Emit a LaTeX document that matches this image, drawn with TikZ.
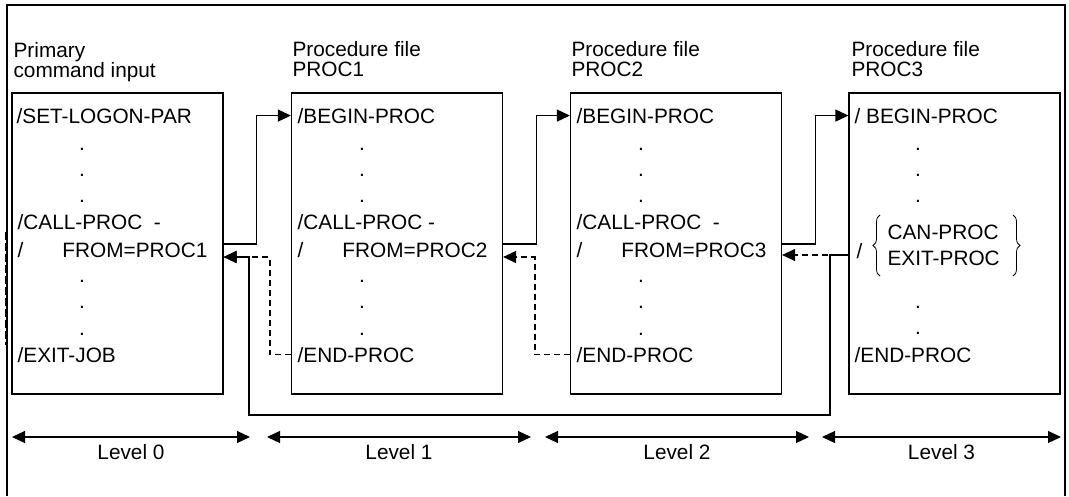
\documentclass[tikz,border=0pt]{standalone}
\usepackage{fontspec}
\setmainfont{Liberation Sans}
\usetikzlibrary{arrows.meta,decorations.pathreplacing}
\tikzset{
	procbox/.style={draw, minimum width=211pt, minimum height=301pt, inner sep=0pt},
	cmd/.style={anchor=base west, inner sep=0pt},
	vdot/.style={anchor=base, inner sep=0pt},
	heading/.style={anchor=base west, inner sep=0pt, align=left, font=\fontsize{20.8}{19.5}\selectfont},
	callarrow/.style={-{Triangle[length=13pt,width=12pt]}},
	retarrow/.style={dash pattern=on 6pt off 4pt, -{Triangle[length=13pt,width=12pt]}},
	levelarrow/.style={{Triangle[length=13pt,width=12pt]}-{Triangle[length=13pt,width=12pt]}}
}
\begin{document}
\begin{tikzpicture}[x=1pt, y=-1pt, line width=1.2pt, font=\fontsize{20.8}{24.6}\selectfont]
	\useasboundingbox (0,0) rectangle (1069,496);
	% outer frame
	\draw (7,496) -- (7,5) -- (1065,5) -- (1065,496);
	\draw[dash pattern=on 8pt off 3pt] (6,232) -- (6,345);

	% boxes and headings (base = last line)
	\foreach \i/\x in {0/117.5, 1/397, 2/676, 3/954.5}
		\node[procbox] (box\i) at (\x,243.5) {};
	\node[heading] (head0) at (13,77) {Primary\\command input};
	\foreach \i/\x in {1/292, 2/571, 3/851}
		\node[heading] (head\i) at (\x,76) {Procedure file\\PROC\i};

	% level 0
	\node[cmd] (begin0) at (16,123) {/SET-LOGON-PAR};
	\node[cmd] (call0) at (17,229) {/CALL-PROC\ \ -};
	\node[cmd] (from0) at (17,257) {/\hspace{39pt}FROM=PROC1};
	\node[cmd] (end0) at (17,362) {/EXIT-JOB};
	\foreach \y [count=\k] in {150,176,202,282,308,335}
		\node[vdot] (dot0\k) at (82,\y) {.};

	% levels 1 and 2
	\foreach \i/\x/\sp in {1/297/\ , 2/576/\ \ }{
		\node[cmd] (begin\i) at (\x,123) {/BEGIN-PROC};
		\node[cmd] (call\i) at (\x,229) {/CALL-PROC\sp-};
		\node[cmd] (from\i) at (\x,257) {/\hspace{39pt}FROM=PROC\the\numexpr\i+1\relax};
		\node[cmd] (end\i) at (\x,362) {/END-PROC};
		\foreach \y [count=\k] in {150,176,202,282,308,335}
			\node[vdot] (dot\i\k) at (\x+65,\y) {.};
	}

	% level 3
	\node[cmd] (begin3) at (854,123) {/ BEGIN-PROC};
	\node[cmd] (slash3) at (856,258) {/};
	\node[cmd, align=left, font=\fontsize{20.8}{26}\selectfont] (alt3) at (887,265) {CAN-PROC\\EXIT-PROC};
	\draw[decorate, decoration={brace, amplitude=7pt}, line width=0.8pt] (880,276) -- (880,215);
	\draw[decorate, decoration={brace, amplitude=7pt}, line width=0.8pt] (1013,215) -- (1013,276);
	\node[cmd] (end3) at (854,362) {/END-PROC};
	\foreach \y [count=\k] in {150,176,202,308,334}
		\node[vdot] (dot3\k) at (918,\y) {.};

	% calls
	\foreach \i/\j in {0/1, 1/2, 2/3}{
		\coordinate (out\i) at (box\i.east |- 0,244);
		\draw[callarrow] (out\i) -- ++(33,0) |- (box\j.west |- begin\j);
	}

	% returns
	\coordinate (in0) at (box0.east |- 0,257);
	\coordinate (in1) at (box1.east |- 0,257);
	\coordinate (in2) at (box2.east |- 0,255);
	\coordinate (exit3) at (box3.west |- 0,255);
	\draw[retarrow] (box1.west |- end1) -- ++(-21,0) |- (in0);
	\draw[retarrow] (box2.west |- end2) -- ++(-35,0) |- (in1);
	\draw[retarrow] (exit3) -- (in2);
	\coordinate (loopR) at (830,415);
	\coordinate (loopL) at (249,415);
	\draw[callarrow] (exit3) -| (loopR) -- (loopL) |- (in0);

	% levels
	\foreach \n/\a/\b in {0/12/250, 1/267/531, 2/545/809, 3/822/1061}{
		\coordinate (lv\n a) at (\a,437);
		\coordinate (lv\n b) at (\b,437);
		\draw[levelarrow] (lv\n a) -- (lv\n b);
		\node[anchor=base, inner sep=0pt] (level\n) at ({(\a+\b)/2},459) {Level \n};
	}
\end{tikzpicture}
\end{document}
